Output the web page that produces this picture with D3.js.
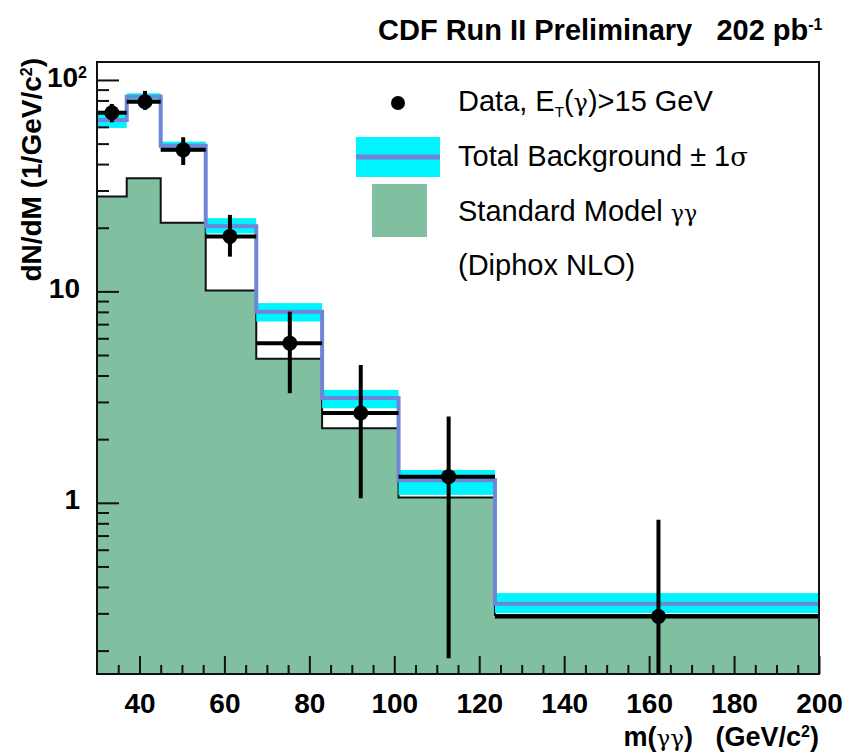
<!DOCTYPE html>
<html>
<head>
<meta charset="utf-8">
<script src="https://cdn.jsdelivr.net/npm/d3@7"></script>
<style>
  body { margin: 0; background: #fff; }
  text { font-family: "Liberation Sans", Arial, sans-serif; }
</style>
</head>
<body>
<div id="chart"></div>
<script>
// bin edges of m(gg) in GeV/c^2
var edges = [30, 37, 45, 55.6, 67.5, 83, 101, 123.7, 200];
// Standard Model gg (Diphox NLO)
var smVals = [28.1, 34.3, 21.1, 10.1, 4.80, 2.25, 1.06, 0.295];
// total background and its +-1 sigma band
var bkgVals = [64.7, 83.4, 48.8, 20.3, 8.02, 3.13, 1.28, 0.333];
var bkgLo = [59.3, 78.9, 45.8, 18.8, 7.20, 2.80, 1.09, 0.301];
var bkgHi = [69.8, 86.5, 51.1, 22.2, 8.80, 3.42, 1.43, 0.374];
// data points
var dataX = [33.5, 41.3, 50.3, 61.3, 75.4, 92.1, 112.8, 162.2];
var dataY = [70.0, 78.9, 46.7, 18.2, 5.69, 2.66, 1.33, 0.290];
var dataLo = [63, 72.2, 39.6, 14.6, 3.30, 1.05, 0.184, 0.05];
var dataHi = [77, 88.7, 53.6, 23.0, 8.02, 4.49, 2.56, 0.831];

var xTicks = [40, 60, 80, 100, 120, 140, 160, 180, 200];
var yTicks = [1, 10, 100];

var margin = {top: 62, right: 27, bottom: 80, left: 97},
    width = 846 - margin.left - margin.right,
    height = 754 - margin.top - margin.bottom;

var svg = d3.select("#chart")
  .append("svg")
    .attr("width", 846)
    .attr("height", 754)
  .append("g")
    .attr("transform", "translate(" + margin.left + "," + margin.top + ")");

var x = d3.scaleLinear().domain([30, 200]).range([0, width]);
var y = d3.scaleLog().domain([0.155, 121.6]).range([height, 0]);

svg.append("clipPath").attr("id", "clip")
  .append("rect").attr("width", width).attr("height", height);

var plot = svg.append("g").attr("clip-path", "url(#clip)");

// step data
var smPts = edges.map(function(e, i) { return {x: e, v: smVals[Math.min(i, smVals.length - 1)]}; });
var bkgPts = edges.map(function(e, i) { return {x: e, v: bkgVals[Math.min(i, bkgVals.length - 1)]}; });

// SM filled histogram
plot.append("path")
  .datum(smPts)
  .attr("fill", "#80bf9f")
  .attr("d", d3.area().curve(d3.curveStepAfter)
    .x(function(d) { return x(d.x); })
    .y0(height)
    .y1(function(d) { return y(d.v); }));

plot.append("path")
  .datum(smPts)
  .attr("fill", "none")
  .attr("stroke", "#111")
  .attr("stroke-width", 2)
  .attr("d", d3.line().curve(d3.curveStepAfter)
    .x(function(d) { return x(d.x); })
    .y(function(d) { return y(d.v); }));

// background band
plot.selectAll(".band")
  .data(bkgVals)
  .enter()
  .append("rect")
    .attr("x", function(d, i) { return x(edges[i]); })
    .attr("width", function(d, i) { return x(edges[i + 1]) - x(edges[i]); })
    .attr("y", function(d, i) { return y(bkgHi[i]); })
    .attr("height", function(d, i) { return y(bkgLo[i]) - y(bkgHi[i]); })
    .attr("fill", "#00f4ff");

plot.append("path")
  .datum(bkgPts)
  .attr("fill", "none")
  .attr("stroke", "#6f86d6")
  .attr("stroke-width", 4)
  .attr("d", d3.line().curve(d3.curveStepAfter)
    .x(function(d) { return x(d.x); })
    .y(function(d) { return y(d.v); }));

// data with error bars
var pts = plot.append("g");
dataX.forEach(function(dx, i) {
  pts.append("line")
    .attr("x1", x(edges[i])).attr("x2", x(edges[i + 1]))
    .attr("y1", y(dataY[i])).attr("y2", y(dataY[i]))
    .attr("stroke", "#000").attr("stroke-width", 4);
  pts.append("line")
    .attr("x1", x(dx)).attr("x2", x(dx))
    .attr("y1", y(dataHi[i])).attr("y2", y(dataLo[i]))
    .attr("stroke", "#000").attr("stroke-width", 4);
  pts.append("circle")
    .attr("cx", x(dx)).attr("cy", y(dataY[i]))
    .attr("r", 7.5).attr("fill", "#000");
});

// axes (ticks point inward)
var xMinor = d3.range(35, 200, 5).filter(function(v) { return v % 20 != 0; });
svg.append("g")
  .attr("class", "axis")
  .attr("transform", "translate(0," + height + ")")
  .call(d3.axisBottom(x).tickValues(xMinor).tickSize(-9).tickFormat(""));
var xAx = svg.append("g")
  .attr("class", "axis")
  .attr("transform", "translate(0," + height + ")")
  .call(d3.axisBottom(x).tickValues(xTicks).tickSize(-18).tickPadding(19));
xAx.selectAll("text")
  .style("font-size", "28px").style("font-weight", "bold").attr("fill", "#000");

var yMinor = [];
[0.1, 1, 10].forEach(function(b) {
  for (var k = 2; k <= 9; k++) yMinor.push(b * k);
});
yMinor = yMinor.filter(function(v) { return v >= 0.155 && v <= 121.6; });
svg.append("g")
  .attr("class", "axis")
  .call(d3.axisLeft(y).tickValues(yMinor).tickSize(-12).tickFormat(""));
var yAx = svg.append("g")
  .attr("class", "axis")
  .call(d3.axisLeft(y).tickValues(yTicks).tickSize(-22).tickPadding(17).tickFormat(""));
yAx.selectAll(".tick").append("text")
  .attr("x", -17).attr("dy", "0.22em")
  .attr("text-anchor", "end")
  .style("font-size", "28px").style("font-weight", "bold").attr("fill", "#000")
  .each(function(d) {
    var t = d3.select(this);
    if (d == 100) {
      t.append("tspan").text("10");
      t.append("tspan").attr("dy", -9).style("font-size", "16px").text("2");
      t.attr("x", -10);
    } else {
      t.text(d);
    }
  });

svg.selectAll(".axis path").remove();
svg.selectAll(".axis line").attr("stroke", "#111").attr("stroke-width", 2);

// frame
svg.append("rect")
  .attr("width", width).attr("height", height)
  .attr("fill", "none").attr("stroke", "#111").attr("stroke-width", 2);

// axis titles
var xt = svg.append("text")
  .attr("x", width).attr("y", height + 72)
  .attr("text-anchor", "end")
  .style("font-size", "27px").style("font-weight", "bold");
xt.append("tspan").text("m(");
xt.append("tspan").style("font-weight", "normal").style("font-family", "DejaVu Serif").style("font-size", "23px").text("\u03b3\u03b3");
xt.append("tspan").text(")\u00a0\u00a0\u00a0(GeV/c");
xt.append("tspan").attr("dy", -9).style("font-size", "16px").text("2");
xt.append("tspan").attr("dy", 9).text(")");

var yt = svg.append("text")
  .attr("transform", "rotate(-90)")
  .attr("x", 4).attr("y", -56)
  .attr("text-anchor", "end")
  .style("font-size", "28px").style("font-weight", "bold");
yt.append("tspan").text("dN/dM (1/GeV/c");
yt.append("tspan").attr("dy", -9).style("font-size", "16px").text("2");
yt.append("tspan").attr("dy", 9).text(")");

// title
var tt = svg.append("text")
  .attr("x", 378 - margin.left).attr("y", 40 - margin.top)
  .style("font-size", "29px").style("font-weight", "bold");
tt.append("tspan").text("CDF Run II Preliminary\u00a0\u00a0\u00a0202 pb");
tt.append("tspan").attr("dy", -10).style("font-size", "16px").text("-1");

// legend
var lg = svg.append("g").attr("transform", "translate(" + (-margin.left) + "," + (-margin.top) + ")");
lg.append("circle").attr("cx", 398).attr("cy", 103).attr("r", 7).attr("fill", "#000");
lg.append("rect").attr("x", 356).attr("y", 137).attr("width", 84).attr("height", 40).attr("fill", "#00f4ff");
lg.append("line").attr("x1", 356).attr("x2", 440).attr("y1", 157).attr("y2", 157)
  .attr("stroke", "#6f86d6").attr("stroke-width", 5);
lg.append("rect").attr("x", 372).attr("y", 184).attr("width", 55).attr("height", 53).attr("fill", "#80bf9f");

var lfs = "29px";
var l1 = lg.append("text").attr("x", 458).attr("y", 111).style("font-size", lfs);
l1.append("tspan").text("Data, E");
l1.append("tspan").attr("dy", 6).style("font-size", "15px").text("T");
l1.append("tspan").attr("dy", -6).text("(");
l1.append("tspan").style("font-family", "DejaVu Serif").style("font-size", "24px").text("\u03b3");
l1.append("tspan").text(")>15 GeV");

var l2 = lg.append("text").attr("x", 458).attr("y", 166).style("font-size", lfs);
l2.append("tspan").text("Total Background \u00b1 1");
l2.append("tspan").style("font-family", "DejaVu Serif").style("font-size", "26px").text("\u03c3");

var l3 = lg.append("text").attr("x", 458).attr("y", 221).style("font-size", lfs);
l3.append("tspan").text("Standard Model ");
l3.append("tspan").style("font-family", "DejaVu Serif").style("font-size", "22px").text("\u03b3\u03b3");

lg.append("text").attr("x", 458).attr("y", 275).style("font-size", lfs).text("(Diphox NLO)");
</script>
</body>
</html>
